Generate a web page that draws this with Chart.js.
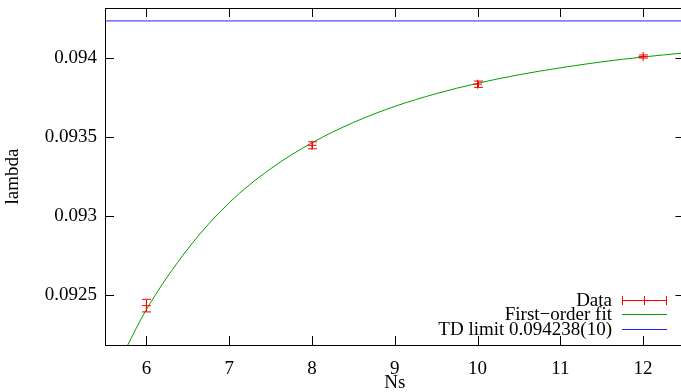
<!DOCTYPE html>
<html>
<head>
<meta charset="utf-8">
<script src="https://cdn.jsdelivr.net/npm/chart.js@4/dist/chart.umd.min.js"></script>
<style>
  html, body { margin: 0; padding: 0; background: #fff; overflow: hidden; width: 681px; height: 392px; }
</style>
</head>
<body>
<canvas id="myChart" width="690" height="392"></canvas>
<script>
// measured points with their error bars
var dataNs = [6, 8, 10, 12];
var dataLambda = [0.09243, 0.093448, 0.093836, 0.094012];
var dataErr = [0.00004, 0.000022, 0.00002, 0.00001];

// first-order fit curve
var fitNs = [5.75, 6, 6.5, 7, 7.5, 8, 8.5, 9, 9.5, 10, 10.5, 11, 11.5, 12, 12.5];
var fitLambda = [0.092155, 0.092405, 0.092790, 0.093083, 0.093299, 0.093464, 0.093593, 0.093695,
                 0.093776, 0.093842, 0.093896, 0.093940, 0.093978, 0.094009, 0.094035];

// thermodynamic limit
var tdNs = [5.5, 12.5];
var tdLambda = [0.094238, 0.094238];

var xTicks = [6, 7, 8, 9, 10, 11, 12];
var yTicks = [0.0925, 0.093, 0.0935, 0.094];

var FONT = 'Liberation Serif';

function toPoints(xs, ys) {
  return xs.map(function (v, i) { return { x: v, y: ys[i] }; });
}

// error bars, drawn with the chart scales
var errorBarPlugin = {
  id: 'errorBars',
  afterDatasetsDraw: function (chart) {
    var ctx = chart.ctx, x = chart.scales.x, y = chart.scales.y;
    ctx.save();
    ctx.strokeStyle = '#ff0000';
    ctx.lineWidth = 1;
    ctx.beginPath();
    dataNs.forEach(function (n, i) {
      var px = Math.round(x.getPixelForValue(n)) + 0.5;
      var top = y.getPixelForValue(dataLambda[i] + dataErr[i]);
      var bot = y.getPixelForValue(dataLambda[i] - dataErr[i]);
      ctx.moveTo(px, top); ctx.lineTo(px, bot);
      ctx.moveTo(px - 4.5, top); ctx.lineTo(px + 4.5, top);
      ctx.moveTo(px - 4.5, bot); ctx.lineTo(px + 4.5, bot);
    });
    ctx.stroke();
    ctx.restore();
  }
};

// gnuplot style box with inward ticks on all sides
var framePlugin = {
  id: 'frame',
  afterDraw: function (chart) {
    var ctx = chart.ctx, a = chart.chartArea, x = chart.scales.x, y = chart.scales.y;
    ctx.save();
    ctx.strokeStyle = '#000';
    ctx.lineWidth = 1;
    ctx.strokeRect(a.left + 0.5, a.top + 0.5, a.right - a.left, a.bottom - a.top);
    ctx.beginPath();
    xTicks.forEach(function (v) {
      var px = Math.round(x.getPixelForValue(v)) + 0.5;
      ctx.moveTo(px, a.bottom); ctx.lineTo(px, a.bottom - 9);
      ctx.moveTo(px, a.top); ctx.lineTo(px, a.top + 9);
    });
    yTicks.forEach(function (v) {
      var py = Math.round(y.getPixelForValue(v)) + 0.5;
      ctx.moveTo(a.left, py); ctx.lineTo(a.left + 9, py);
      ctx.moveTo(a.right, py); ctx.lineTo(a.right - 9, py);
    });
    ctx.stroke();
    ctx.restore();
  }
};

// key in the lower right corner
var keyPlugin = {
  id: 'gpKey',
  afterDraw: function (chart) {
    var ctx = chart.ctx;
    ctx.save();
    ctx.font = '19px "' + FONT + '"';
    ctx.textAlign = 'right';
    ctx.textBaseline = 'middle';
    chart.data.datasets.forEach(function (ds, i) {
      var yy = Math.round(299.5 + i * 14.6) + 0.5;
      ctx.fillStyle = '#000';
      ctx.fillText(ds.label, 612, yy + 1);
      ctx.strokeStyle = ds.borderColor;
      ctx.lineWidth = 1;
      ctx.beginPath();
      ctx.moveTo(622, yy); ctx.lineTo(667, yy);
      if (i == 0) {
        ctx.moveTo(622.5, yy - 4.5); ctx.lineTo(622.5, yy + 4.5);
        ctx.moveTo(666.5, yy - 4.5); ctx.lineTo(666.5, yy + 4.5);
        ctx.moveTo(644.5, yy - 4.5); ctx.lineTo(644.5, yy + 4.5);
      }
      ctx.stroke();
    });
    ctx.restore();
  }
};

var ctx = document.getElementById('myChart');
var myChart = new Chart(ctx, {
  type: 'scatter',
  data: {
    datasets: [{
      label: 'Data',
      data: toPoints(dataNs, dataLambda),
      borderColor: '#ff0000',
      backgroundColor: '#ff0000',
      pointStyle: 'cross',
      pointRadius: 4.5,
      borderWidth: 1,
      showLine: false
    }, {
      label: 'First\u2212order fit',
      data: toPoints(fitNs, fitLambda),
      borderColor: '#00a000',
      borderWidth: 1,
      pointRadius: 0,
      showLine: true,
      cubicInterpolationMode: 'monotone'
    }, {
      label: 'TD limit 0.094238(10)',
      data: toPoints(tdNs, tdLambda),
      borderColor: '#2222ff',
      borderWidth: 1,
      pointRadius: 0,
      showLine: true
    }]
  },
  options: {
    responsive: false,
    animation: false,
    devicePixelRatio: 1,
    layout: { padding: { top: 8, right: 4, left: 0, bottom: 0 } },
    plugins: {
      legend: { display: false },
      tooltip: { enabled: false }
    },
    scales: {
      x: {
        type: 'linear',
        min: 5.5,
        max: 12.5,
        grid: { display: false, drawTicks: false },
        border: { display: false },
        afterFit: function (scale) {
          scale.height = 47;
          scale.paddingLeft = 0;
          scale.paddingRight = 0;
        },
        afterBuildTicks: function (scale) {
          scale.ticks = xTicks.map(function (v) { return { value: v }; });
        },
        ticks: { color: '#000', padding: 13, font: { family: FONT, size: 19 } },
        title: {
          display: true, text: 'Ns', color: '#000',
          padding: { top: 0, bottom: 0 },
          font: { family: FONT, size: 19, lineHeight: 0.9 }
        }
      },
      y: {
        type: 'linear',
        min: 0.09218,
        max: 0.09432,
        grid: { display: false, drawTicks: false },
        border: { display: false },
        afterFit: function (scale) {
          scale.width = 105;
          scale.paddingTop = 0;
          scale.paddingBottom = 0;
        },
        afterBuildTicks: function (scale) {
          scale.ticks = yTicks.map(function (v) { return { value: v }; });
        },
        ticks: {
          color: '#000', padding: 8, font: { family: FONT, size: 19 },
          callback: function (v) { return String(v); }
        },
        title: {
          display: true, text: 'lambda', color: '#000',
          padding: { top: 4, bottom: 0 },
          font: { family: FONT, size: 19, lineHeight: 1 }
        }
      }
    }
  },
  plugins: [errorBarPlugin, framePlugin, keyPlugin]
});
</script>
</body>
</html>
